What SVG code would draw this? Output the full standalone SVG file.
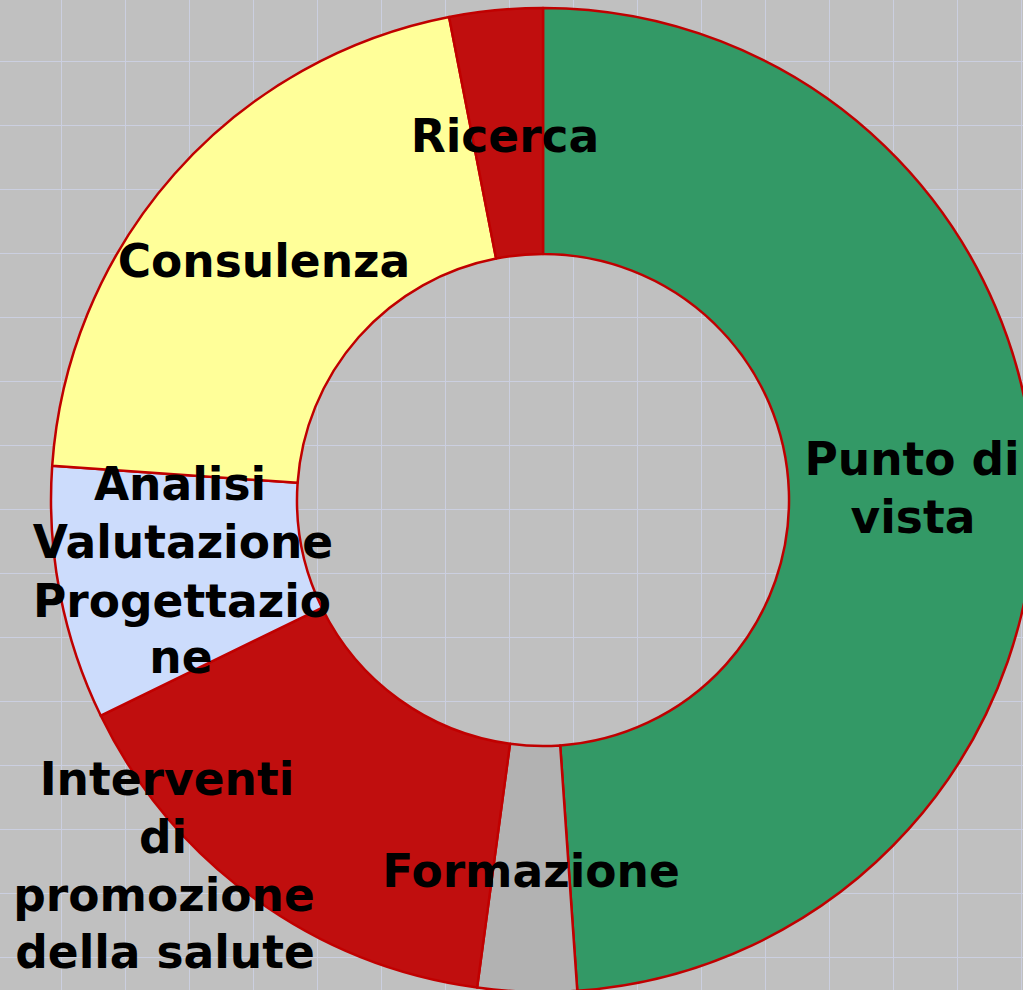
<svg xmlns="http://www.w3.org/2000/svg" width="1023" height="990" viewBox="0 0 1023 990">
<defs>
<pattern id="grid" x="61" y="61" width="64" height="64" patternUnits="userSpaceOnUse">
<path d="M0 0 H64 M0 0 V64" fill="none" stroke="#cbcfe0" stroke-width="2"/>
</pattern>
<style>
.slice{stroke:#c00000;stroke-width:2.5;stroke-linejoin:round}
.lbl{font-family:"DejaVu Sans","Verdana",sans-serif;font-weight:bold;font-size:45.5px;fill:#000;text-anchor:middle}
</style>
</defs>
<rect width="1023" height="990" fill="#c0c0c0"/>
<rect width="1023" height="990" fill="url(#grid)"/>
<g id="punto-di-vista">
<path class="slice" fill="#339966" d="M543 8 A492 492 0 0 1 577.3 990.8 L560.2 745.4 A246 246 0 0 0 543 254 Z"/>
<text class="lbl" x="912" y="475">Punto di</text>
<text class="lbl" x="913" y="533">vista</text>
</g>
<g id="formazione">
<path class="slice" fill="#b2b2b2" d="M577.3 990.8 A492 492 0 0 1 477.1 987.6 L510 743.8 A246 246 0 0 0 560.2 745.4 Z"/>
</g>
<g id="interventi">
<path class="slice" fill="#c00e0e" d="M477.1 987.6 A492 492 0 0 1 100.8 715.7 L321.9 607.8 A246 246 0 0 0 510 743.8 Z"/>
</g>
<g id="analisi">
<path class="slice" fill="#ccdcfc" d="M100.8 715.7 A492 492 0 0 1 52.2 465.7 L297.6 482.8 A246 246 0 0 0 321.9 607.8 Z"/>
</g>
<g id="consulenza">
<path class="slice" fill="#ffff99" d="M52.2 465.7 A492 492 0 0 1 449.1 17 L496.1 258.5 A246 246 0 0 0 297.6 482.8 Z"/>
<text class="lbl" x="264" y="277">Consulenza</text>
</g>
<g id="ricerca">
<path class="slice" fill="#c00e0e" d="M449.1 17 A492 492 0 0 1 543 8 L543 254 A246 246 0 0 0 496.1 258.5 Z"/>
<text class="lbl" x="505" y="152">Ricerca</text>
</g>
<g id="labels">
<text class="lbl" x="531" y="887">Formazione</text>
<text class="lbl" x="180" y="500">Analisi</text>
<text class="lbl" x="183" y="558">Valutazione</text>
<text class="lbl" x="182" y="617">Progettazio</text>
<text class="lbl" x="181" y="673">ne</text>
<text class="lbl" x="167" y="795">Interventi</text>
<text class="lbl" x="163" y="853">di</text>
<text class="lbl" x="164" y="911">promozione</text>
<text class="lbl" x="165" y="968">della salute</text>
</g>
<g id="connectors"/>
</svg>
